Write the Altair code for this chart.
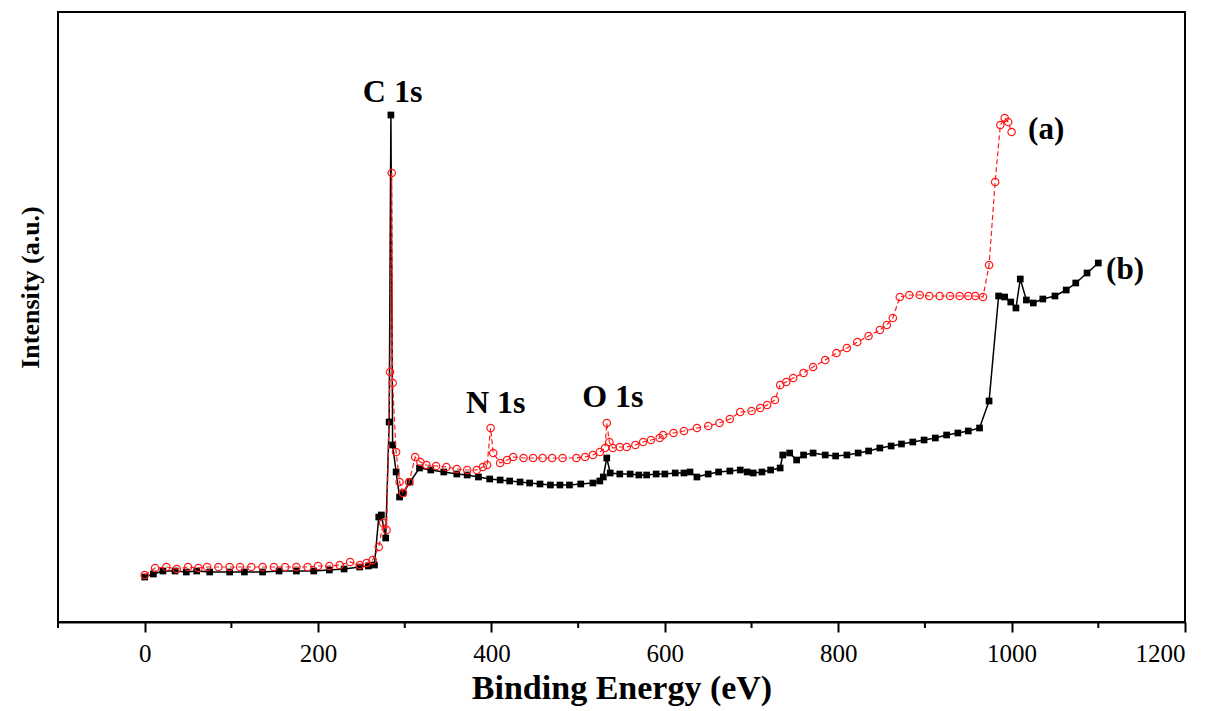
import altair as alt
import pandas as pd

# Series (a): red open circles, dashed line
a_x = [0, 12, 25, 37, 50, 62, 72, 85, 98, 110, 123, 136, 149, 162, 175, 188, 200, 213, 225, 237, 248, 256, 263,
       270, 275, 279, 283, 285, 286, 290, 294, 298, 305, 312, 318, 325, 336, 348, 360, 372, 383, 390, 395, 399,
       402, 410, 418, 425, 437, 448, 459, 470, 482, 498, 508, 517, 525, 531, 533, 536, 540, 548, 556, 566, 575,
       584, 594, 598, 610, 622, 637, 650, 663, 675, 687, 700, 710, 718, 727, 733, 740, 748, 760, 771, 785, 798,
       810, 822, 835, 848, 856, 863, 871, 882, 894, 905, 917, 929, 940, 950, 958, 967, 974, 981, 987, 992, 996, 1000]
a_y = [47, 54, 55, 53, 55, 54, 55, 55, 55, 55, 55, 55, 55, 55, 55, 55, 56, 56, 57, 60, 57, 59, 62,
       75, 99, 92, 250, 449, 239, 170, 140, 129, 140, 165, 160, 157, 156, 155, 153, 152, 152, 155, 157, 194,
       169, 159, 162, 165, 164, 164, 164, 164, 164, 164, 165, 167, 170, 174, 199, 180, 174, 175, 175, 177, 180,
       182, 184, 187, 189, 191, 194, 196, 199, 203, 210, 211, 214, 217, 222, 237, 240, 244, 249, 255, 262, 269,
       274, 280, 286, 292, 297, 304, 325, 327, 327, 326, 326, 326, 326, 326, 326, 325, 357, 440, 497, 504, 500, 490]

# Series (b): black filled squares, solid line
b_x = [0, 10, 21, 35, 48, 60, 75, 98, 115, 136, 155, 175, 195, 213, 230, 248, 258, 265, 270, 273, 278, 282, 284,
       286, 290, 294, 298, 306, 317, 330, 345, 360, 372, 385, 398, 410, 421, 433, 444, 456, 468, 479, 490, 503,
       517, 525, 529, 533, 537, 548, 560, 570, 579, 590, 600, 612, 622, 629, 637, 650, 662, 675, 687, 695, 702,
       712, 722, 733, 736, 744, 752, 760, 771, 785, 797, 810, 823, 835, 848, 861, 873, 886, 899, 912, 925, 938,
       950, 963, 974, 985, 992, 999, 1005, 1010, 1017, 1025, 1036, 1050, 1063, 1074, 1087, 1100]
b_y = [45, 48, 51, 51, 50, 51, 50, 50, 50, 50, 51, 51, 51, 52, 53, 55, 56, 57, 105, 107, 84, 200, 507,
       177, 150, 125, 129, 140, 154, 152, 150, 148, 147, 145, 143, 142, 141, 140, 139, 138, 137, 137, 137, 138,
       139, 141, 145, 164, 149, 148, 148, 147, 147, 148, 148, 149, 149, 150, 145, 148, 150, 151, 152, 150, 149,
       150, 152, 154, 167, 169, 162, 167, 169, 167, 166, 167, 169, 171, 174, 176, 178, 180, 182, 184, 187, 189,
       191, 194, 221, 326, 325, 320, 314, 343, 322, 319, 323, 326, 332, 339, 349, 359]

# Annotations
peak_labels = ["C 1s", "N 1s", "O 1s"]
peak_x = [286, 405, 540]
peak_y = [530, 219, 225]
series_labels = ["(a)", "(b)"]
series_lx = [1019, 1109]
series_ly = [492, 352]

major_ticks = [0, 200, 400, 600, 800, 1000, 1200]
minor_ticks = [-100, 100, 300, 500, 700, 900, 1100]

dfa = pd.DataFrame({"x": a_x, "y": a_y})
dfb = pd.DataFrame({"x": b_x, "y": b_y})
dpk = pd.DataFrame({"x": peak_x, "y": peak_y, "t": peak_labels})
dsr = pd.DataFrame({"x": series_lx, "y": series_ly, "t": series_labels})
dmin = pd.DataFrame({"x": minor_ticks})

FONT = "Liberation Serif"
W, H = 1127, 610

xs = alt.Scale(domain=[-100, 1200], nice=False, zero=False)
ys = alt.Scale(domain=[0, 610], nice=False, zero=False)

xaxis = alt.Axis(values=major_ticks, format="d", title="Binding Energy (eV)", grid=False,
                 domainColor="black", domainWidth=2, tickColor="black", tickWidth=2, tickSize=10,
                 labelFont=FONT, labelFontSize=25, labelColor="black", labelPadding=9,
                 titleFont=FONT, titleFontSize=34, titleFontWeight="bold", titleColor="black",
                 titlePadding=5)
yaxis = alt.Axis(title="Intensity (a.u.)", grid=False, domain=False, ticks=False, labels=False,
                 titleFont=FONT, titleFontSize=26, titleFontWeight="bold", titleColor="black",
                 titleAngle=-90, titleX=-28, titleY=275, titleAlign="center", titleBaseline="middle")

x_enc = alt.X("x:Q", scale=xs, axis=xaxis)
y_enc = alt.Y("y:Q", scale=ys, axis=yaxis)

line_b = alt.Chart(dfb).mark_line(color="black", strokeWidth=1.5).encode(x=x_enc, y=y_enc)
pts_b = alt.Chart(dfb).mark_point(shape="square", filled=True, color="black", size=45, opacity=1).encode(
    x=alt.X("x:Q", scale=xs), y=alt.Y("y:Q", scale=ys))
line_a = alt.Chart(dfa).mark_line(color="#ff1a1a", strokeWidth=1.2, strokeDash=[5, 3]).encode(
    x=alt.X("x:Q", scale=xs), y=alt.Y("y:Q", scale=ys))
pts_a = alt.Chart(dfa).mark_point(shape="circle", filled=False, color="#ff1a1a", size=55, strokeWidth=1.2,
                                  opacity=1).encode(x=alt.X("x:Q", scale=xs), y=alt.Y("y:Q", scale=ys))

txt_pk = alt.Chart(dpk).mark_text(font=FONT, fontSize=32, fontWeight="bold", color="black",
                                  align="center", baseline="middle").encode(
    x=alt.X("x:Q", scale=xs), y=alt.Y("y:Q", scale=ys), text="t:N")
txt_sr = alt.Chart(dsr).mark_text(font=FONT, fontSize=31, fontWeight="bold", color="black",
                                  align="left", baseline="middle").encode(
    x=alt.X("x:Q", scale=xs), y=alt.Y("y:Q", scale=ys), text="t:N")

minor = alt.Chart(dmin).mark_rule(color="black", strokeWidth=2).encode(
    x=alt.X("x:Q", scale=xs), y=alt.value(H), y2=alt.value(H + 6))

chart = alt.layer(line_b, pts_b, line_a, pts_a, txt_pk, txt_sr, minor).properties(
    width=W, height=H,
    autosize=alt.AutoSizeParams(type="none"),
    padding={"left": 58, "top": 12, "right": 42, "bottom": 89},
).configure(background="white", view=alt.ViewConfig(stroke="black", strokeWidth=2))

chart.save("out.html", embed_options={"renderer": "svg", "actions": False})
